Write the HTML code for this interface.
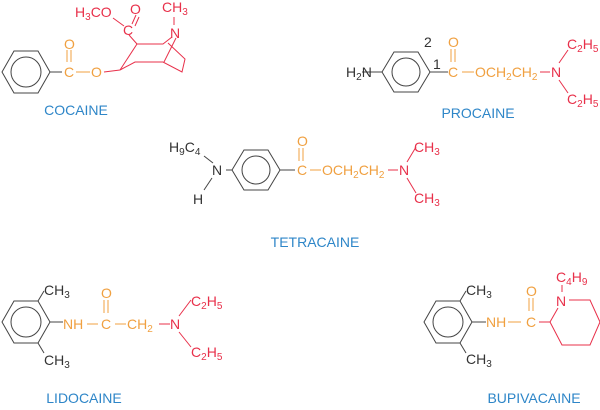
<!DOCTYPE html>
<html><head><style>
html,body{margin:0;padding:0;background:#fff}
svg text{font-family:"Liberation Sans",Arial,sans-serif;font-size:14px}
.k{fill:#333}.o{fill:#f0a040}.r{fill:#e8304a}.b{fill:#2e86c8;font-size:14px}
tspan.s{font-size:10px}
</style></head><body>
<svg width="600" height="405" viewBox="0 0 600 405" xmlns="http://www.w3.org/2000/svg">
<g fill="none" stroke-width="1">
<!-- cocaine benzene -->
<g stroke="#444"><polygon points="2,72 14,51 38,51 50,72 38,93 14,93"/><circle cx="26" cy="72" r="15"/><line x1="50" y1="72" x2="62" y2="72"/></g>
<g stroke="#f0a040"><line x1="67" y1="50" x2="67" y2="62"/><line x1="71" y1="50" x2="71" y2="62"/><line x1="76" y1="72" x2="90" y2="72"/></g>
<g stroke="#e8304a"><line x1="104" y1="72" x2="120" y2="70"/>
<polyline points="120,70 137,44 163,44 172,37"/><polyline points="120,70 135,62 163,62 182,72 185,59 168,43"/>
<line x1="176" y1="38" x2="164" y2="62"/><line x1="137" y1="44" x2="129" y2="35"/>
<line x1="113" y1="18" x2="124" y2="26"/><line x1="132" y1="24" x2="136" y2="15"/><line x1="135" y1="26" x2="139" y2="17"/>
<line x1="174" y1="25" x2="174" y2="17"/></g>
<!-- procaine -->
<g stroke="#444"><line x1="362" y1="72" x2="382" y2="72"/><polygon points="382,72 394,52 418,52 430,72 418,92 394,92"/><circle cx="406" cy="72" r="14"/><line x1="430" y1="72" x2="448" y2="72"/></g>
<g stroke="#f0a040"><line x1="451" y1="49" x2="451" y2="62"/><line x1="455" y1="49" x2="455" y2="62"/><line x1="462" y1="72" x2="474" y2="72"/></g>
<g stroke="#e8304a"><line x1="540" y1="72" x2="550" y2="72"/><line x1="559" y1="63" x2="568" y2="50"/><line x1="559" y1="80" x2="568" y2="93"/></g>
<!-- tetracaine -->
<g stroke="#444"><line x1="204" y1="156" x2="213" y2="163"/><line x1="212" y1="178" x2="204" y2="190"/><line x1="226" y1="170" x2="232" y2="170"/><polygon points="232,170 244,150 268,150 280,170 268,190 244,190"/><circle cx="256" cy="170" r="14"/><line x1="280" y1="170" x2="295" y2="170"/></g>
<g stroke="#f0a040"><line x1="299" y1="148" x2="299" y2="161"/><line x1="303" y1="148" x2="303" y2="161"/><line x1="310" y1="170" x2="321" y2="170"/></g>
<g stroke="#e8304a"><line x1="388" y1="170" x2="398" y2="170"/><line x1="407" y1="162" x2="416" y2="147"/><line x1="407" y1="178" x2="416" y2="193"/></g>
<!-- lidocaine -->
<g stroke="#444"><polygon points="2,322 14,301 38,301 50,322 38,343 14,343"/><circle cx="26" cy="322" r="15"/><line x1="38" y1="301" x2="44" y2="291"/><line x1="38" y1="343" x2="44" y2="353"/><line x1="50" y1="322" x2="63" y2="322"/></g>
<g stroke="#f0a040"><line x1="87" y1="324" x2="98" y2="324"/><line x1="104" y1="300" x2="104" y2="313"/><line x1="108" y1="300" x2="108" y2="313"/><line x1="115" y1="324" x2="126" y2="324"/></g>
<g stroke="#e8304a"><line x1="159" y1="324" x2="170" y2="324"/><line x1="179" y1="316" x2="191" y2="300"/><line x1="179" y1="332" x2="191" y2="347"/></g>
<!-- bupivacaine -->
<g stroke="#444"><polygon points="424,322 436,301 460,301 472,322 460,343 436,343"/><circle cx="448" cy="322" r="15"/><line x1="460" y1="301" x2="466" y2="291"/><line x1="460" y1="343" x2="466" y2="353"/><line x1="472" y1="322" x2="486" y2="322"/></g>
<g stroke="#f0a040"><line x1="508" y1="322" x2="521" y2="322"/><line x1="529" y1="298" x2="529" y2="311"/><line x1="533" y1="298" x2="533" y2="311"/></g>
<g stroke="#e8304a"><line x1="539" y1="322" x2="550" y2="322"/><polyline points="550,322 562,345 590,345 600,322 590,300 569,300"/><line x1="550" y1="322" x2="558" y2="308"/><line x1="562" y1="285" x2="562" y2="292"/></g>
</g>
<!-- cocaine text -->
<text class="r" x="75" y="17">H<tspan class="s" dy="3">3</tspan><tspan dy="-3">CO</tspan></text>
<text class="r" x="130" y="14">O</text><text class="r" x="123" y="35">C</text>
<text class="r" x="162" y="12">CH<tspan class="s" dy="3">3</tspan></text><text class="r" x="170" y="38">N</text>
<text class="o" x="64" y="49">O</text><text class="o" x="64" y="77">C</text><text class="o" x="91" y="77">O</text>
<text class="b" x="76" y="115" text-anchor="middle">COCAINE</text>
<!-- procaine text -->
<text class="k" x="346" y="77">H<tspan class="s" dy="3">2</tspan><tspan dy="-3">N</tspan></text>
<text class="k" x="424" y="47">2</text><text class="k" x="433" y="69">1</text>
<text class="o" x="448" y="47">O</text><text class="o" x="448" y="77">C</text>
<text class="o" x="475" y="77">OCH<tspan class="s" dy="3">2</tspan><tspan dy="-3">CH</tspan><tspan class="s" dy="3">2</tspan></text>
<text class="r" x="551" y="77">N</text>
<text class="r" x="567" y="49">C<tspan class="s" dy="3">2</tspan><tspan dy="-3">H</tspan><tspan class="s" dy="3">5</tspan></text>
<text class="r" x="567" y="104">C<tspan class="s" dy="3">2</tspan><tspan dy="-3">H</tspan><tspan class="s" dy="3">5</tspan></text>
<text class="b" x="478" y="118" text-anchor="middle">PROCAINE</text>
<!-- tetracaine text -->
<text class="k" x="169" y="152">H<tspan class="s" dy="3">9</tspan><tspan dy="-3">C</tspan><tspan class="s" dy="3">4</tspan></text>
<text class="k" x="212" y="175">N</text><text class="k" x="193" y="204">H</text>
<text class="o" x="297" y="146">O</text><text class="o" x="297" y="175">C</text>
<text class="o" x="322" y="175">OCH<tspan class="s" dy="3">2</tspan><tspan dy="-3">CH</tspan><tspan class="s" dy="3">2</tspan></text>
<text class="r" x="399" y="175">N</text>
<text class="r" x="414" y="152">CH<tspan class="s" dy="3">3</tspan></text>
<text class="r" x="414" y="203">CH<tspan class="s" dy="3">3</tspan></text>
<text class="b" x="315" y="247" text-anchor="middle">TETRACAINE</text>
<!-- lidocaine text -->
<text class="k" x="44" y="295">CH<tspan class="s" dy="3">3</tspan></text>
<text class="k" x="44" y="365">CH<tspan class="s" dy="3">3</tspan></text>
<text class="o" x="63" y="329">NH</text><text class="o" x="101" y="298">O</text><text class="o" x="101" y="329">C</text>
<text class="o" x="127" y="329">CH<tspan class="s" dy="3">2</tspan></text>
<text class="r" x="170" y="329">N</text>
<text class="r" x="191" y="306">C<tspan class="s" dy="3">2</tspan><tspan dy="-3">H</tspan><tspan class="s" dy="3">5</tspan></text>
<text class="r" x="191" y="357">C<tspan class="s" dy="3">2</tspan><tspan dy="-3">H</tspan><tspan class="s" dy="3">5</tspan></text>
<text class="b" x="84" y="403" text-anchor="middle">LIDOCAINE</text>
<!-- bupivacaine text -->
<text class="k" x="466" y="295">CH<tspan class="s" dy="3">3</tspan></text>
<text class="k" x="466" y="364">CH<tspan class="s" dy="3">3</tspan></text>
<text class="o" x="486" y="327">NH</text><text class="o" x="526" y="296">O</text><text class="o" x="526" y="327">C</text>
<text class="r" x="556" y="306">N</text>
<text class="r" x="556" y="282">C<tspan class="s" dy="3">4</tspan><tspan dy="-3">H</tspan><tspan class="s" dy="3">9</tspan></text>
<text class="b" x="534" y="403" text-anchor="middle">BUPIVACAINE</text>
</svg>
</body></html>
